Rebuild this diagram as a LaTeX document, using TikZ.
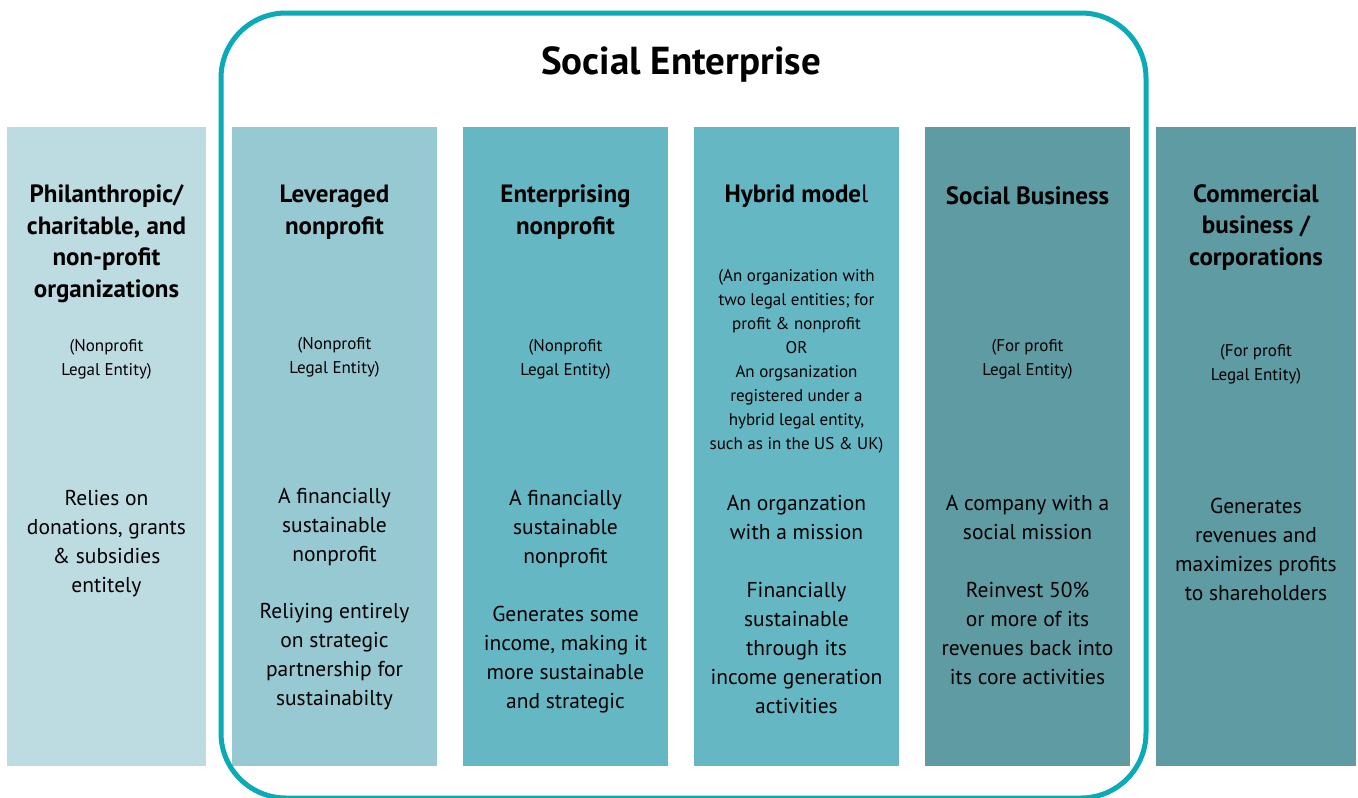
\documentclass[tikz,border=0pt]{standalone}
\usepackage{fontspec}
\setmainfont{PT Sans}
\definecolor{frame}{HTML}{0AAAB7}
\definecolor{colA}{HTML}{BDDCE1}
\definecolor{colB}{HTML}{97C9D3}
\definecolor{colC}{HTML}{66B7C4}
\definecolor{colD}{HTML}{5F9BA3}
\begin{document}
\begin{tikzpicture}[x=1pt,y=-1pt,
  col/.style={fill=#1,inner sep=0,outer sep=0,minimum height=639pt,anchor=north west},
  head/.style={font=\fontsize{25}{31.5}\selectfont\bfseries,align=center},
  sub/.style={font=\fontsize{17}{24}\selectfont,align=center},
  body/.style={font=\fontsize{21.5}{29}\selectfont,align=center}]
\useasboundingbox[fill=white] (0,0) rectangle (1358,798);
\node[col=colA,minimum width=199pt] (phil) at (7,127) {};
\node[col=colB,minimum width=205pt] (lev) at (232,127) {};
\node[col=colC,minimum width=205pt] (ent) at (463,127) {};
\node[col=colC,minimum width=205pt] (hyb) at (694,127) {};
\node[col=colD,minimum width=205pt] (soc) at (925,127) {};
\node[col=colD,minimum width=200pt] (com) at (1156,127) {};
\node[draw=frame,line width=5pt,rounded corners=65pt,inner sep=0,outer sep=0,minimum width=925pt,minimum height=785pt,anchor=north west] (se) at (221,13) {};
\node[font=\fontsize{39}{46}\selectfont\bfseries] (title) at (681,64) {Social Enterprise};
\node[head] (philhead) at (106.5,243.5) {Philanthropic/\\charitable, and\\non-profit\\organizations};
\node[sub] (philsub) at (106.5,359) {(Nonprofit\\Legal Entity)};
\node[body] (philbody) at (106.5,543.5) {Relies on\\donations, grants\\\& subsidies\\entitely};
\node[head] (levhead) at (334.5,212) {Leveraged\\nonprofit};
\node[sub] (levsub) at (334.5,357) {(Nonprofit\\Legal Entity)};
\node[body] (levbody) at (334.5,526.5) {A financially\\sustainable\\nonprofit};
\node[body] (levmore) at (334.5,656.5) {Reliying entirely\\on strategic\\partnership for\\sustainabilty};
\node[head] (enthead) at (565.5,212) {Enterprising\\nonprofit};
\node[sub] (entsub) at (565.5,359) {(Nonprofit\\Legal Entity)};
\node[body] (entbody) at (565.5,529) {A financially\\sustainable\\nonprofit};
\node[body] (entmore) at (565.5,659.5) {Generates some\\income, making it\\more sustainable\\and strategic};
\node[head] (hybhead) at (796.5,196) {Hybrid mode{\mdseries l}};
\node[sub] (hybsub) at (796.5,361) {(An organization with\\two legal entities; for\\profit \& nonprofit\\OR\\An orgsanization\\registered under a\\hybrid legal entity,\\such as in the US \& UK)};
\node[body] (hybbody) at (796.5,517) {An organzation\\with a mission};
\node[body] (hybmore) at (796.5,648) {Financially\\sustainable\\through its\\income generation\\activities};
\node[head] (sochead) at (1027.5,196) {Social Business};
\node[sub] (socsub) at (1027.5,359) {(For profit\\Legal Entity)};
\node[body] (socbody) at (1027.5,517) {A company with a\\social mission};
\node[body] (socmore) at (1027.5,633.5) {Reinvest 50\%\\or more of its\\revenues back into\\its core activities};
\node[head] (comhead) at (1256,227.5) {Commercial\\business /\\corporations};
\node[sub] (comsub) at (1256,364) {(For profit\\Legal Entity)};
\node[body] (combody) at (1256,549) {Generates\\revenues and\\maximizes profits\\to shareholders};
\end{tikzpicture}
\end{document}
